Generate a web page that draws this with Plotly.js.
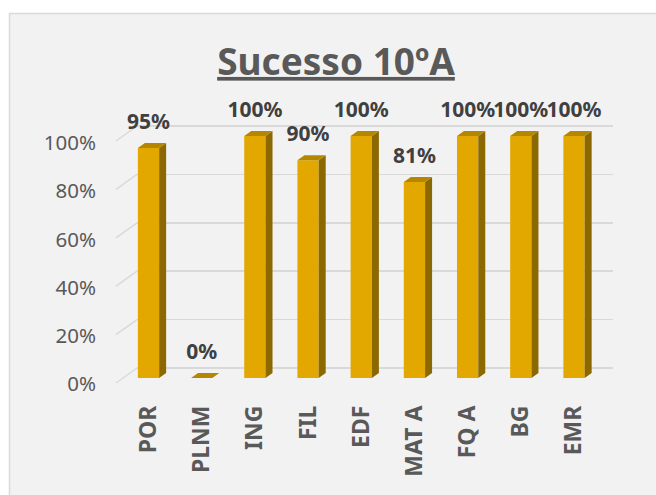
<!DOCTYPE html>
<html>
<head>
<meta charset="utf-8">
<script src="https://cdn.plot.ly/plotly-3.0.1.min.js"></script>
<style>html,body{margin:0;padding:0;background:#fff;}#chart{width:656px;height:495px;}</style>
</head>
<body>
<div id="chart"></div>
<script>
// ---- data ----
var categories = ["POR", "PLNM", "ING", "FIL", "EDF", "MAT A", "FQ A", "BG", "EMR"];
var successPct = [95, 0, 100, 90, 100, 81, 100, 100, 100];
var yTickVals = [0, 20, 40, 60, 80, 100];
var yTickLabels = ["0%", "20%", "40%", "60%", "80%", "100%"];
var chartTitle = "Sucesso 10ºA";

// ---- geometry (pixels) ----
var W = 656, H = 495;
var mL = 20, mR = 43, mT = 100, mB = 95;
var plotW = W - mL - mR, plotH = H - mT - mB;
var plotLeftPx = 137;
var xDomain = [(plotLeftPx - mL) / plotW, 1];
var xRange = [-0.216, 8.733];
var pxPerCat = (W - mR - plotLeftPx) / (xRange[1] - xRange[0]);

// y axes: bars (front), grid (back wall), labels
function rangeFor(zeroPx, hundredPx) {
  var ppu = (zeroPx - hundredPx) / 100;
  var bottomPx = H - mB;
  var lo = -(bottomPx - zeroPx) / ppu;
  return [lo, lo + plotH / ppu];
}
var yBarRange = rangeFor(378, 136);
var yGridRange = rangeFor(368, 126);
var yLabRange = rangeFor(384, 143);
var pxPerUnit = (378 - 136) / 100;

var halfW = 0.2;
var dx = 7 / pxPerCat, dy = 5 / pxPerUnit;

var xs = categories.map(function (c, i) { return i; });

var sideX = [], sideY = [], topX = [], topY = [];
xs.forEach(function (x, i) {
  var v = successPct[i];
  sideX.push(x + halfW, x + halfW + dx, x + halfW + dx, x + halfW, x + halfW, null);
  sideY.push(0, dy, v + dy, v, 0, null);
  topX.push(x - halfW, x + halfW, x + halfW + dx, x - halfW + dx, x - halfW, null);
  topY.push(v, v, v + dy, v + dy, v, null);
});

var frontColor = "#E2A800", sideColor = "#8C6900", topColor = "#B58700";

var traces = [
  {type: "bar", x: xs, y: successPct, width: 2 * halfW, marker: {color: frontColor, line: {width: 0}},
   xaxis: "x", yaxis: "y", hoverinfo: "skip", showlegend: false},
  {type: "scatter", mode: "lines", x: sideX, y: sideY, fill: "toself", fillcolor: sideColor,
   line: {width: 0, color: sideColor}, xaxis: "x", yaxis: "y", hoverinfo: "skip", showlegend: false},
  {type: "scatter", mode: "lines", x: topX, y: topY, fill: "toself", fillcolor: topColor,
   line: {width: 0, color: topColor}, xaxis: "x", yaxis: "y", hoverinfo: "skip", showlegend: false},
  {type: "scatter", mode: "text", x: xs, y: successPct.map(function (v) { return v + 24 / pxPerUnit; }),
   text: successPct.map(function (v) { return v + "%"; }), textposition: "middle center",
   textfont: {family: "Noto Sans", size: 21, color: "#404040", weight: "bold"},
   cliponaxis: false, xaxis: "x", yaxis: "y", hoverinfo: "skip", showlegend: false},
  {type: "scatter", mode: "markers", x: [], y: [], xaxis: "x", yaxis: "y2", hoverinfo: "skip", showlegend: false},
  {type: "scatter", mode: "markers", x: [], y: [], xaxis: "x", yaxis: "y3", hoverinfo: "skip", showlegend: false}
];

function pxToPaperX(px) { return (px - mL) / plotW; }
function pxToPaperY(py) { return (H - mB - py) / plotH; }

var shapes = [
  {type: "rect", xref: "paper", yref: "paper", x0: pxToPaperX(9.5), x1: pxToPaperX(720),
   y0: pxToPaperY(700), y1: pxToPaperY(13.5), fillcolor: "#F2F2F2",
   line: {color: "#D9D9D9", width: 1.5}, layer: "below"}
];
var frontOffset = 15 / ((368 - 126) / 100);
yTickVals.forEach(function (v) {
  shapes.push({type: "line", xref: "paper", yref: "y2", x0: pxToPaperX(116), x1: pxToPaperX(plotLeftPx),
    y0: v - frontOffset, y1: v, line: {color: "#D9D9D9", width: 1.5}, layer: "below"});
});

var layout = {
  width: W, height: H,
  margin: {l: mL, r: mR, t: mT, b: mB, pad: 0},
  paper_bgcolor: "#FFFFFF", plot_bgcolor: "rgba(0,0,0,0)",
  showlegend: false,
  title: {text: chartTitle, x: pxToPaperX(336), xref: "paper", xanchor: "center",
          y: 1 - 62 / H, yref: "container", yanchor: "middle",
          font: {family: "Noto Sans", size: 37, color: "#595959", weight: "bold", lineposition: "under"}},
  xaxis: {domain: xDomain, range: xRange, tickmode: "array", tickvals: xs, ticktext: categories,
          tickangle: -90, showgrid: false, zeroline: false, showline: false, ticks: "",
          tickfont: {family: "Noto Sans", size: 23, color: "#595959", weight: "bold"}, fixedrange: true},
  yaxis: {range: yBarRange, showgrid: false, zeroline: false, showline: false, showticklabels: false, ticks: "", fixedrange: true},
  yaxis2: {overlaying: "y", range: yGridRange, tickmode: "array", tickvals: yTickVals, showgrid: true,
           gridcolor: "#D9D9D9", gridwidth: 1.5, zeroline: false, showline: false, showticklabels: false, ticks: "", fixedrange: true},
  yaxis3: {overlaying: "y", anchor: "free", position: pxToPaperX(96), side: "left", range: yLabRange,
           tickmode: "array", tickvals: yTickVals, ticktext: yTickLabels, showgrid: false, zeroline: false,
           showline: false, ticks: "", tickfont: {family: "Noto Sans", size: 20.5, color: "#595959"}, fixedrange: true},
  shapes: shapes
};

Plotly.newPlot("chart", traces, layout, {displayModeBar: false, staticPlot: true});
</script>
</body>
</html>
